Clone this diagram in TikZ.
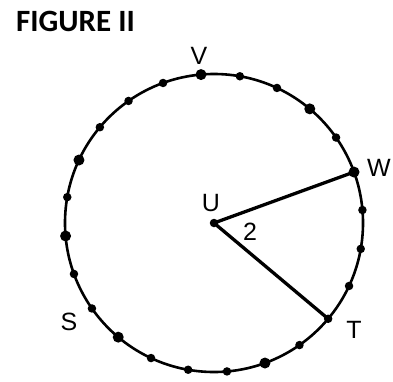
\documentclass[tikz,border=0pt]{standalone}
\usepackage{fontspec}
\setmainfont{Liberation Sans}
\newfontfamily\titlefont{Carlito}
\usetikzlibrary{calc}
\begin{document}
\begin{tikzpicture}[x=1pt,y=-1pt,
  dotsmall/.style={circle,fill=black,inner sep=0pt,minimum size=8.5pt},
  dotbig/.style={circle,fill=black,inner sep=0pt,minimum size=11pt},
  lbl/.style={font=\fontsize{25}{25}\selectfont,inner sep=0pt},
  rim/.style={line width=2.6pt},
  radius line/.style={line width=3.3pt}]
\useasboundingbox (0,0) rectangle (393,381);
\node[anchor=west,inner sep=0pt,font=\titlefont\bfseries\fontsize{31}{31}\selectfont] (title) at (16,21) {FIGURE II};
\coordinate (O) at (214,223);
\draw[rim] (O) circle[radius=149];
\foreach \k in {0,...,23}{
  \pgfmathsetmacro{\ang}{95-15*\k}
  \coordinate (p\k) at ($(O)+(\ang:149 and -149)$);
}
\foreach \k in {1,2,4,6,7,8,9,10,12,13,14,16,17,19,21,22,23}{
  \node[dotsmall] (d\k) at (p\k) {};
}
\foreach \k in {0,3,5,11,15,18,20}{
  \node[dotbig] (d\k) at (p\k) {};
}
\node[dotsmall] (U) at (O) {};
\draw[radius line] (U.center) -- (d5.center);
\draw[radius line] (U.center) -- (d9.center);
\node[lbl] (lV) at (199,56) {V};
\node[lbl] (lW) at (379,168) {W};
\node[lbl] (lU) at (211,203) {U};
\node[lbl] (lS) at (69,322) {S};
\node[lbl] (lT) at (354,330) {T};
\node[lbl] (l2) at (250,232) {2};
\end{tikzpicture}
\end{document}
